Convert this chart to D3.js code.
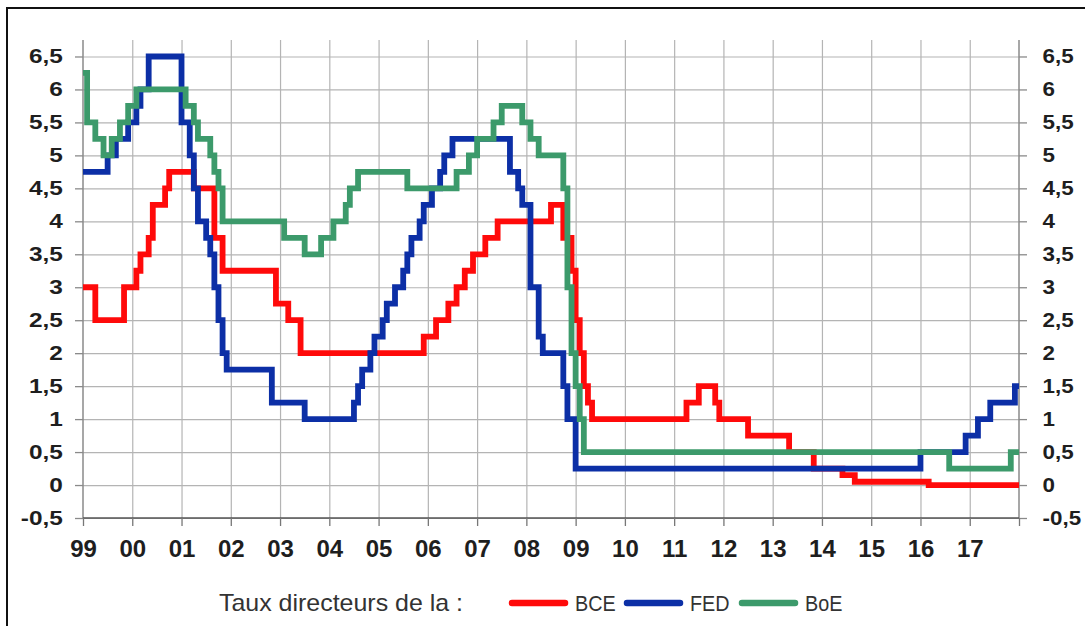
<!DOCTYPE html>
<html>
<head>
<meta charset="utf-8">
<script src="https://cdn.jsdelivr.net/npm/d3@7"></script>
<style>
  html, body { margin: 0; padding: 0; background: #fff; }
  svg { display: block; }
</style>
</head>
<body>
<svg id="chart" width="1085" height="626"></svg>
<script>
// ---------------- DATA (policy rates, %, step changes by month) ----------------
const yearTicks = [1999,2000,2001,2002,2003,2004,2005,2006,2007,2008,2009,2010,2011,2012,2013,2014,2015,2016,2017];
const yTickValues = [-0.5,0,0.5,1,1.5,2,2.5,3,3.5,4,4.5,5,5.5,6,6.5];
const seriesNames = ["BCE","FED","BoE"];
const legendTitle = "Taux directeurs de la :";

const bce = [
  ["1999-01",3.0],["1999-04",2.5],["1999-11",3.0],["2000-02",3.25],["2000-03",3.5],["2000-05",3.75],
  ["2000-06",4.25],["2000-09",4.5],["2000-10",4.75],["2001-04",4.5],["2001-09",3.75],["2001-11",3.25],
  ["2002-12",2.75],["2003-03",2.5],["2003-06",2.0],["2005-12",2.25],["2006-03",2.5],["2006-06",2.75],
  ["2006-08",3.0],["2006-10",3.25],["2006-12",3.5],["2007-03",3.75],["2007-06",4.0],["2008-07",4.25],
  ["2008-10",3.75],["2008-12",3.25],["2009-01",2.5],["2009-02",2.0],["2009-03",1.5],["2009-04",1.25],
  ["2009-05",1.0],["2011-04",1.25],["2011-07",1.5],["2011-11",1.25],["2011-12",1.0],["2012-07",0.75],
  ["2013-05",0.5],["2013-11",0.25],["2014-06",0.15],["2014-09",0.05],["2016-03",0.0]
];
const fed = [
  ["1999-01",4.75],["1999-07",5.0],["1999-09",5.25],["1999-12",5.5],["2000-02",5.75],["2000-03",6.0],
  ["2000-05",6.5],["2001-01",5.5],["2001-03",5.0],["2001-04",4.5],["2001-05",4.0],["2001-07",3.75],
  ["2001-08",3.5],["2001-09",3.0],["2001-10",2.5],["2001-11",2.0],["2001-12",1.75],["2002-11",1.25],
  ["2003-07",1.0],["2004-07",1.25],["2004-08",1.5],["2004-09",1.75],["2004-11",2.0],["2004-12",2.25],
  ["2005-02",2.5],["2005-03",2.75],["2005-05",3.0],["2005-07",3.25],["2005-08",3.5],["2005-09",3.75],
  ["2005-11",4.0],["2005-12",4.25],["2006-02",4.5],["2006-04",4.75],["2006-05",5.0],["2006-07",5.25],
  ["2007-09",4.75],["2007-11",4.5],["2007-12",4.25],["2008-02",3.0],["2008-04",2.25],["2008-05",2.0],
  ["2008-10",1.5],["2008-11",1.0],["2009-01",0.25],["2016-01",0.5],["2016-12",0.75],["2017-03",1.0],
  ["2017-06",1.25],["2017-12",1.5]
];
const boe = [
  ["1999-01",6.25],["1999-02",5.5],["1999-04",5.25],["1999-06",5.0],["1999-08",5.25],["1999-10",5.5],
  ["1999-12",5.75],["2000-02",6.0],["2001-02",5.75],["2001-04",5.5],["2001-05",5.25],["2001-08",5.0],
  ["2001-09",4.75],["2001-10",4.5],["2001-11",4.0],["2003-02",3.75],["2003-07",3.5],["2003-11",3.75],
  ["2004-02",4.0],["2004-05",4.25],["2004-06",4.5],["2004-08",4.75],["2005-08",4.5],["2006-08",4.75],
  ["2006-11",5.0],["2007-01",5.25],["2007-05",5.5],["2007-07",5.75],["2007-12",5.5],["2008-02",5.25],
  ["2008-04",5.0],["2008-10",4.5],["2008-11",3.0],["2008-12",2.0],["2009-01",1.5],["2009-02",1.0],
  ["2009-03",0.5],["2016-08",0.25],["2017-11",0.5]
];
const seriesColors = ["#ff0a0a","#0c2fa6","#3c9a6b"];

// ---------------- CHART ----------------
const svg = d3.select("#chart");
const X0 = 83, X1 = 1019, Y0 = 518, Y1 = 40;
const endYear = 2018;

const x = d3.scaleLinear().domain([1999, endYear]).range([X0, X1]);
const y = d3.scaleLinear().domain([-0.5, 6.75]).range([Y0, Y1]);

const toYear = s => { const [yy, mm] = s.split("-").map(Number); return yy + (mm - 1) / 12; };
const prep = arr => {
  const pts = arr.map(([d, v]) => ({ t: toYear(d), v }));
  pts.push({ t: endYear, v: pts[pts.length - 1].v });
  return pts;
};

// outer frame
svg.append("rect").attr("x", 7).attr("y", 8).attr("width", 1200).attr("height", 800)
  .attr("fill", "none").attr("stroke", "#111").attr("stroke-width", 2);

// horizontal grid
svg.append("g").attr("transform", `translate(${X0},0)`)
  .call(d3.axisLeft(y).tickValues(yTickValues).tickSize(-(X1 - X0)).tickFormat(""))
  .call(g => g.select(".domain").remove())
  .call(g => g.selectAll("line").attr("stroke", "#b4b4b4").attr("stroke-width", 1.2));

// vertical grid
svg.append("g").attr("transform", `translate(0,${Y0})`)
  .call(d3.axisBottom(x).tickValues(yearTicks.slice(1)).tickSize(-(Y0 - Y1)).tickFormat(""))
  .call(g => g.select(".domain").remove())
  .call(g => g.selectAll("line").attr("stroke", "#b4b4b4").attr("stroke-width", 1.2));

const fmtY = v => String(v).replace(".", ",");
const fmtX = v => String(v % 100).padStart(2, "0");

// left axis
const gl = svg.append("g").attr("transform", `translate(${X0},0)`)
  .call(d3.axisLeft(y).tickValues(yTickValues).tickSize(8).tickPadding(8.5).tickFormat(fmtY));
// right axis
const gr = svg.append("g").attr("transform", `translate(${X1},0)`)
  .call(d3.axisRight(y).tickValues(yTickValues).tickSize(8).tickPadding(13).tickFormat(fmtY));
[gl, gr].forEach(g => {
  g.select(".domain").attr("stroke", "#8a8a8a").attr("stroke-width", 1.5).attr("d", `M0,${Y0}V${Y1}`);
  g.selectAll(".tick line").attr("stroke", "#8a8a8a").attr("stroke-width", 1.3);
  g.selectAll(".tick text")
    .attr("fill", "#1e1e1e")
    .style("font-family", "'Liberation Sans', Arial, sans-serif")
    .style("font-size", "20px").style("font-weight", "bold");
});
gl.selectAll(".tick text").attr("transform", "scale(1.22,1)");
gr.selectAll(".tick text").attr("transform", "scale(1.12,1)");

// bottom axis
const gb = svg.append("g").attr("transform", `translate(0,${Y0})`)
  .call(d3.axisBottom(x).tickValues(yearTicks.concat([endYear])).tickSize(8).tickPadding(14)
    .tickFormat(v => v === endYear ? "" : fmtX(v)));
gb.select(".domain").attr("stroke", "#555").attr("stroke-width", 1.6).attr("d", `M${X0},0H${X1}`);
gb.selectAll(".tick line").attr("stroke", "#777").attr("stroke-width", 1.3);
gb.selectAll(".tick text")
  .attr("fill", "#1e1e1e")
  .style("font-family", "'Liberation Sans', Arial, sans-serif")
  .style("font-size", "24px").style("font-weight", "bold");

// series lines
const line = d3.line().x(d => x(d.t)).y(d => y(d.v)).curve(d3.curveStepAfter);
const allSeries = [bce, fed, boe];
allSeries.forEach((s, i) => {
  svg.append("path").datum(prep(s))
    .attr("d", line)
    .attr("fill", "none")
    .attr("stroke", seriesColors[i])
    .attr("stroke-width", 5.8)
    .attr("stroke-linejoin", "miter")
    .attr("stroke-linecap", "butt");
});

// legend
const lg = svg.append("g");
lg.append("text").attr("x", 219).attr("y", 611)
  .attr("fill", "#333")
  .style("font-family", "'Liberation Sans', Arial, sans-serif")
  .style("font-size", "24px")
  .attr("transform", "translate(219,0) scale(1.04,1) translate(-219,0)")
  .text(legendTitle);
const legX = [512, 627, 742];
seriesNames.forEach((n, i) => {
  lg.append("line").attr("x1", legX[i]).attr("x2", legX[i] + 53).attr("y1", 603).attr("y2", 603)
    .attr("stroke", seriesColors[i]).attr("stroke-width", 6.5).attr("stroke-linecap", "round");
  const tx = legX[i] + 63;
  lg.append("text").attr("x", tx).attr("y", 611)
    .attr("fill", "#333")
    .style("font-family", "'Liberation Sans', Arial, sans-serif")
    .style("font-size", "22px")
    .attr("transform", `translate(${tx},0) scale(0.9,1) translate(${-tx},0)`)
    .text(n);
});
</script>
</body>
</html>
